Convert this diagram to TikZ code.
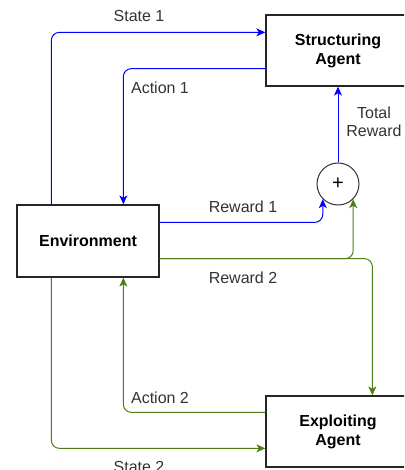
\documentclass[tikz,border=0pt]{standalone}
\usepackage{fontspec}
\setmainfont{Liberation Sans}
\usetikzlibrary{arrows.meta}
\definecolor{bl}{HTML}{0000FF}
\definecolor{gr}{HTML}{4D7F17}
\definecolor{lbl}{HTML}{333333}
\tikzset{
  box/.style={draw=black!85, line width=1.3pt, minimum width=144pt, minimum height=71pt, align=center, inner sep=0pt, font=\fontsize{16}{19}\selectfont\bfseries},
  lab/.style={text=lbl, align=center, inner sep=0pt, font=\fontsize{16}{18}\selectfont},
  conn/.style={line width=1pt, rounded corners=8pt, -{Stealth[length=9pt,width=8pt,inset=2.5pt]}},
  blue line/.style={conn, draw=bl},
  green line/.style={conn, draw=gr}
}
\begin{document}
\begin{tikzpicture}[x=1pt,y=-1pt]
\clip (0,0) rectangle (404,470);
\fill[white] (0,0) rectangle (404,470);
\node[box] (sa) at (338,50.5) {Structuring\\Agent};
\node[box, minimum width=142pt, minimum height=72pt] (env) at (88,241) {Environment};
\node[box] (ea) at (338,431.5) {Exploiting\\Agent};
\node[draw=black!80, line width=1pt, circle, minimum size=42pt, inner sep=0pt, font=\fontsize{20}{20}\selectfont] (plus) at (338,184) {+};

\draw[blue line] ([xshift=35pt]env.north west) |- ([yshift=-18pt]sa.north west);
\draw[blue line] ([yshift=18pt]sa.south west) -| ([xshift=107pt]env.north west);
\draw[blue line] (plus.north) -- (sa.south);
\draw[blue line] ([yshift=-18pt]env.north east) -| (plus.south west);
\draw[green line] ([yshift=19pt]env.south east) -| (plus.south east);
\draw[green line] ([yshift=19pt]env.south east) -| ([xshift=107pt]ea.north west);
\draw[green line] ([yshift=-17pt]ea.north west) -| ([xshift=107pt]env.south west);
\draw[green line] ([xshift=35pt]env.south west) |- ([yshift=-53pt]ea.north west);

\node[lab] (l1) at (139,16) {State 1};
\node[lab] (l2) at (160,88) {Action 1};
\node[lab] (l3) at (374,122) {Total\\Reward};
\node[lab] (l4) at (243,207) {Reward 1};
\node[lab] (l5) at (243,278) {Reward 2};
\node[lab] (l6) at (160,398) {Action 2};
\node[lab] (l7) at (139,467) {State 2};
\end{tikzpicture}
\end{document}
